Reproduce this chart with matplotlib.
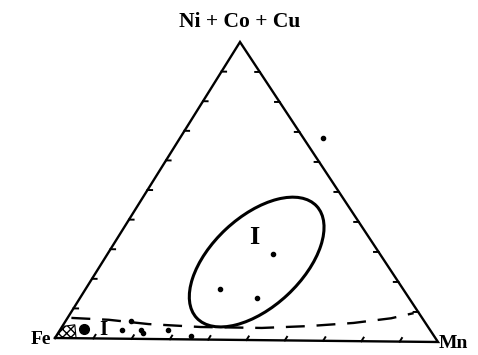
import matplotlib.pyplot as plt
from matplotlib.patches import Ellipse, Polygon
import numpy as np

# составы точек: (Fe, Mn, Ni+Co+Cu), доли
fe = [-0.05, 0.28, 0.49, 0.40, 0.81, 0.76, 0.77, 0.76, 0.69, 0.65]
mn = [0.37, 0.43, 0.35, 0.46, 0.16, 0.21, 0.17, 0.22, 0.28, 0.35]
ni = [0.68, 0.29, 0.17, 0.14, 0.03, 0.03, 0.06, 0.02, 0.03, 0.01]

# крупная точка у вершины Fe
big_fe, big_mn, big_ni = 0.91, 0.06, 0.03

# граница поля II (штриховая)
dash_mn = [0.01, 0.11, 0.22, 0.36, 0.52, 0.64, 0.75, 0.84, 0.89]
dash_ni = [0.068, 0.063, 0.05, 0.042, 0.041, 0.049, 0.061, 0.078, 0.096]

# центр поля I
ell_mn, ell_ni = 0.40, 0.262

vertex_labels = ['Fe', 'Mn', 'Ni + Co + Cu']

# вершины треугольника в пикселях
A = np.array([55, 338])
B = np.array([438, 342])
C = np.array([240, 42])


def tern(m, n):
    m = np.asarray(m, float)
    n = np.asarray(n, float)
    f = 1 - m - n
    x = f * A[0] + m * B[0] + n * C[0]
    y = f * A[1] + m * B[1] + n * C[1]
    return x, y


fig = plt.figure(figsize=(4.78, 3.55), dpi=100)
ax = fig.add_axes([0, 0, 1, 1])
ax.set_xlim(0, 478)
ax.set_ylim(355, 0)
ax.axis('off')

font = {'family': 'Liberation Serif', 'weight': 'bold'}

# треугольник
ax.plot([A[0], B[0], C[0], A[0]], [A[1], B[1], C[1], A[1]], 'k-', lw=1.7,
        solid_joinstyle='miter')

# засечки через 10 %
t = 0.012
for k in np.arange(0.1, 1.0, 0.1):
    # левая сторона
    x, y = tern([0, t], [k, k])
    ax.plot(x, y, 'k-', lw=1.4)
    # правая сторона
    x, y = tern([1 - k, 1 - k - t], [k, k])
    ax.plot(x, y, 'k-', lw=1.4)
    # основание
    x, y = tern([k, k], [0, t])
    ax.plot(x, y, 'k-', lw=1.4)

# точки
x, y = tern(mn, ni)
ax.plot(x, y, 'ko', ms=3)
x, y = tern(big_mn, big_ni)
ax.plot(x, y, 'ko', ms=7)

# заштрихованный участок у вершины Fe
hx, hy = tern([0.0, 0.055, 0.03, 0.005], [0.0, 0.0, 0.045, 0.04])
ax.add_patch(Polygon(np.column_stack([hx, hy]), closed=True, fill=False,
                     hatch='xxxx', lw=0.8, edgecolor='k'))

# штриховая граница
x, y = tern(dash_mn, dash_ni)
ax.plot(x, y, 'k--', lw=1.7, dashes=(8, 5))

# эллипс поля I
cx, cy = tern(ell_mn, ell_ni)
ax.add_patch(Ellipse((float(cx), float(cy)), 164, 90, angle=-43, fill=False,
                     lw=2.2, edgecolor='k'))

ax.text(float(cx) - 2, float(cy) - 25, 'I', fontsize=19, ha='center', va='center', **font)
x, y = tern(big_mn + 0.052, big_ni)
ax.text(float(x), float(y), 'I', fontsize=15, ha='center', va='center', **font)

# подписи вершин
ax.text(A[0] - 4, A[1] + 2, vertex_labels[0], fontsize=14, ha='right', va='center', **font)
ax.text(B[0] + 1, B[1] + 1, vertex_labels[1], fontsize=14, ha='left', va='center', **font)
ax.text(C[0], C[1] - 20, vertex_labels[2], fontsize=15.5, ha='center', va='center', **font)

plt.savefig('out.png', dpi=100)
